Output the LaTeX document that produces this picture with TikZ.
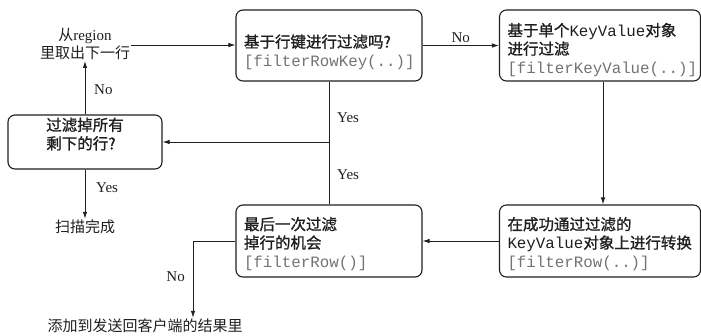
\documentclass[tikz,border=0pt]{standalone}
\usepackage{fontspec}
\setmainfont{Liberation Serif}
\setmonofont{Liberation Mono}
\newfontfamily\cjk{Noto Sans CJK SC}
\newfontfamily\cjkbold[FakeBold=1.2]{Noto Sans CJK SC}
\usetikzlibrary{arrows.meta}
\definecolor{codegray}{gray}{0.45}
\definecolor{ink}{gray}{0.12}
% Chinese text (plain for labels, heavier inside boxes),
% black monospace names and grey method calls
\newcommand{\zh}[1]{{\cjk #1}}
\newcommand{\zhb}[1]{{\cjkbold #1}}
\newcommand{\kv}[1]{{\fontsize{15.8}{18.5}\ttfamily #1}}
\newcommand{\codetxt}[1]{{\fontsize{15.8}{18.5}\ttfamily\color{codegray}#1}}

\begin{document}
\begin{tikzpicture}[x=1pt,y=-1pt,
  every node/.style={text=ink},
  stepbox/.style={draw=ink, line width=1.1pt, rounded corners=7pt,
    inner xsep=8pt, inner ysep=0pt, align=left,
    font=\fontsize{15.5}{18.5}\selectfont},
  lbl/.style={font=\fontsize{15}{18}\selectfont, align=center, inner sep=1pt},
  conn/.style={draw=ink, line width=0.9pt},
  arr/.style={conn, -{Latex[length=7pt,width=4.5pt]}}]
\useasboundingbox (0,0) rectangle (701,335);

% boxes
\node[stepbox, minimum width=186pt, minimum height=71pt, text width=170pt,
  text depth=9pt]
  (rowkey) at (329,45.5)
  {\zhb{基于行键进行过滤吗?}\\ \codetxt{[filterRowKey(..)]}};
\node[stepbox, minimum width=201pt, minimum height=71pt, text width=185pt,
  text depth=32pt]
  (keyvalue) at (600,45.5)
  {\zhb{基于单个}\kv{KeyValue}\zhb{对象}\\ \zhb{进行过滤}\\ \codetxt{[filterKeyValue(..)]}};
\node[stepbox, minimum width=201pt, minimum height=72pt, text width=185pt,
  text depth=35pt]
  (transform) at (600,241)
  {\zhb{在成功通过过滤的}\\ \kv{KeyValue}\zhb{对象上进行转换}\\ \codetxt{[filterRow(..)]}};
\node[stepbox, minimum width=186pt, minimum height=72pt, text width=170pt,
  text depth=35pt]
  (lastchance) at (329,241)
  {\zhb{最后一次过滤}\\ \zhb{掉行的机会}\\ \codetxt{[filterRow()]}};
\node[stepbox, minimum width=154pt, minimum height=54pt, text depth=17pt]
  (remaining) at (85,142)
  {\zhb{过滤掉所有}\\ \zhb{剩下的行?}};

% free text
\node[lbl] (nextrow) at (85,44)
  {\zh{从}region\\ \zh{里取出下一行}};
\node[lbl] (done) at (85,227) {\zh{扫描完成}};
\node[lbl] (result) at (145,326) {\zh{添加到发送回客户端的结果里}};

% connectors
\draw[arr] (nextrow.east |- 0,45) -- (rowkey.west |- 0,45);
\draw[arr] (rowkey.east) -- (keyvalue.west)
  node[lbl, midway, above=1pt] {No};
\draw[arr] ([xshift=3pt]keyvalue.south) -- ([xshift=3pt]transform.north);
\draw[arr] (transform.west) -- (lastchance.east);
\draw[conn] (rowkey.south) -- (lastchance.north);
\coordinate (join) at (rowkey.south |- remaining.east);
\draw[arr] (join) -- (remaining.east);
\node[lbl, anchor=west] at (336,118) {Yes};
\node[lbl, anchor=west] at (336,175) {Yes};
\draw[arr] (remaining.north) -- (nextrow.south);
\node[lbl, anchor=west] at (93,90) {No};
\draw[arr] (remaining.south) -- (done.north);
\node[lbl, anchor=west] at (95,188) {Yes};
\coordinate (bend) at (193,241);
\draw[arr] (lastchance.west) -- (bend) -- (bend |- result.north);
\node[lbl, anchor=east] at (186,277) {No};
\end{tikzpicture}
\end{document}
